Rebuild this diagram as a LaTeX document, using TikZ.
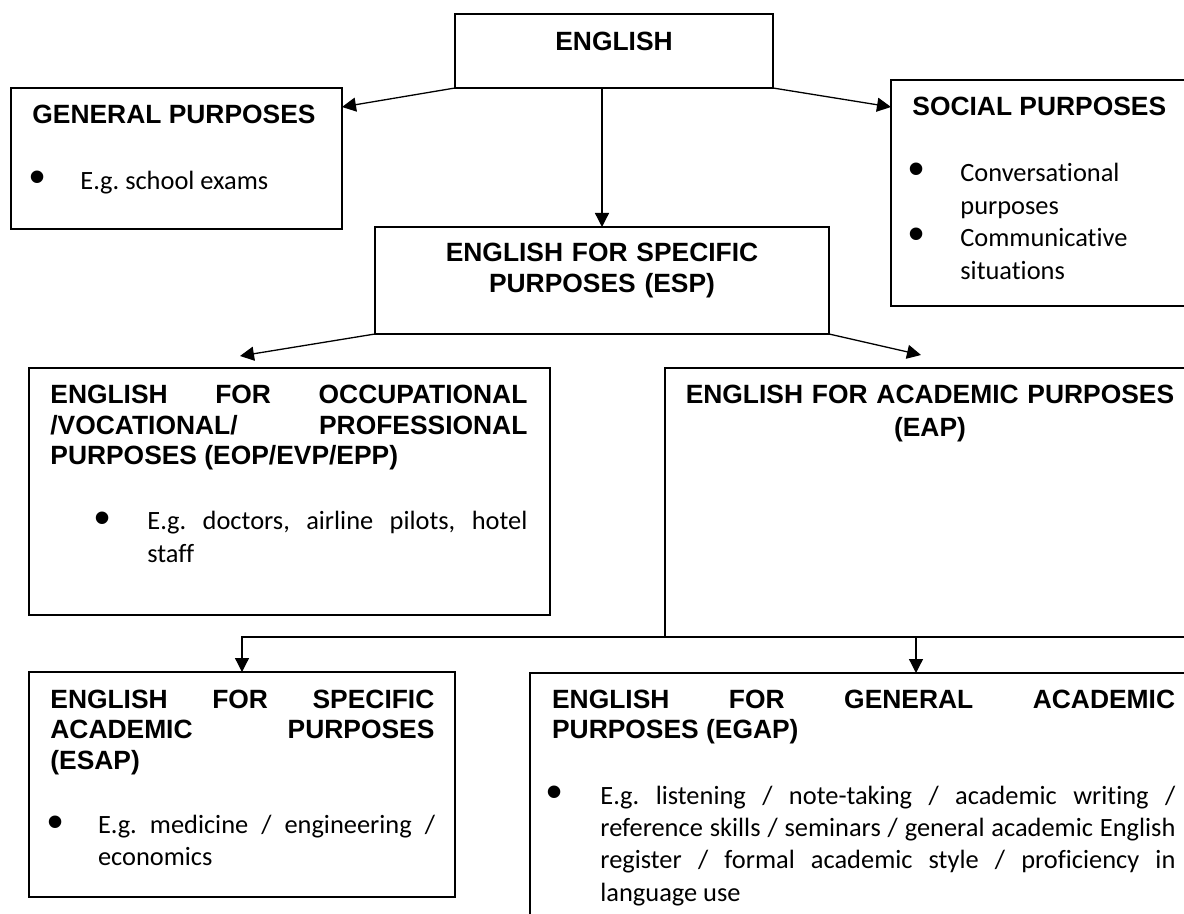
\documentclass[tikz,border=0pt]{standalone}
\usepackage{fontspec}
\setmainfont{Carlito}[Ligatures=NoCommon]
\newfontfamily\hdfont{Liberation Sans}
\usetikzlibrary{arrows.meta,calc}
\hyphenpenalty=10000
\exhyphenpenalty=10000
\tolerance=10000
\hbadness=10000
\frenchspacing
\tikzset{
  box/.style={draw, line width=0.75pt, anchor=north west, inner sep=0pt, outer sep=0pt},
  ttl/.style={font=\hdfont\bfseries\fontsize{13.2}{15.25}\selectfont\frenchspacing, inner sep=0pt, anchor=base west},
  txt/.style={font=\fontsize{13.2}{16.2}\selectfont\frenchspacing, inner sep=0pt, anchor=base west},
  bul/.style={font=\hdfont\fontsize{23}{23}\selectfont, inner sep=0pt, anchor=center},
  arr/.style={line width=0.65pt, -{Triangle[length=7pt,width=7pt]}},
}
\begin{document}
\begin{tikzpicture}[x=0.5pt, y=-0.5pt]
\useasboundingbox (0,0) rectangle (1184,914);
\clip (0,0) rectangle (1184,914);

% boxes
\node[box, minimum width=159pt, minimum height=37pt]   (eng)  at (455,14)  {};
\node[box, minimum width=165.5pt, minimum height=70.5pt] (gen) at (11,88)  {};
\node[box, minimum width=160pt, minimum height=113pt]  (soc)  at (891,80)  {};
\node[box, minimum width=227pt, minimum height=53.5pt] (esp)  at (375,227) {};
\node[box, minimum width=260.5pt, minimum height=123.5pt] (eop) at (29,368) {};
\node[box, minimum width=270pt, minimum height=134.5pt] (eap) at (665,368) {};
\node[box, minimum width=213pt, minimum height=112.5pt] (esap) at (29,672) {};
\node[box, minimum width=350pt, minimum height=150pt]  (egap) at (530,673) {};

% texts
\node[ttl, anchor=base] (engT) at (614,50.5) {ENGLISH};

\node[ttl] (genT) at (32,124) {GENERAL PURPOSES};
\node[bul] (genB) at (37.7,182) {•};
\node[txt] (genX) at (80,190) {E.g. school exams};

\node[ttl] (socT) at (912,116) {SOCIAL PURPOSES};
\node[bul] (socB1) at (917,174) {•};
\node[bul] (socB2) at (917,239) {•};
\node[txt, text width=100pt, align=left] (socX1) at (960,181.7) {Conversational\\purposes};
\node[txt, text width=100pt, align=left] (socX2) at (960,246.7) {Communicative\\situations};

\node[ttl, anchor=base, text width=220pt, align=center] (espT) at (602,262) {ENGLISH FOR SPECIFIC\\PURPOSES (ESP)};

\node[ttl, text width=238.5pt, align=justify] (eopT) at (50,404)
  {ENGLISH FOR OCCUPATIONAL\linebreak /VOCATIONAL/ PROFESSIONAL\linebreak PURPOSES (EOP/EVP/EPP)};
\node[bul] (eopB) at (103,522.7) {•};
\node[txt, text width=190pt, align=justify] (eopX) at (147,530)
  {E.g. doctors, airline pilots, hotel\linebreak staff};

\node[ttl, anchor=base, text width=260pt, align=center, font=\hdfont\bfseries\fontsize{13.2}{16.5}\selectfont] (eapT) at (930,404)
  {ENGLISH FOR ACADEMIC PURPOSES\\(EAP)};

\node[ttl, text width=192pt, align=justify] (esapT) at (50,708)
  {ENGLISH FOR SPECIFIC\linebreak ACADEMIC PURPOSES\linebreak (ESAP)};
\node[bul] (esapB) at (55.5,826.5) {•};
\node[txt, text width=168.5pt, align=justify] (esapX) at (97.6,833)
  {E.g. medicine / engineering /\linebreak economics};

\node[ttl, text width=311.5pt, align=justify] (egapT) at (551.7,708)
  {ENGLISH FOR GENERAL ACADEMIC\linebreak PURPOSES (EGAP)};
\node[bul] (egapB) at (555,796.7) {•};
\node[txt, text width=287.5pt, align=justify] (egapX) at (600,804)
  {E.g. listening / note-taking / academic writing /\linebreak reference skills / seminars / general academic English\linebreak register / formal academic style / proficiency in\linebreak language use};

% connectors
\coordinate (l1) at (240,356);
\coordinate (r1) at (921,355);
\coordinate (ga) at (916,637);

\draw[arr] (eng.south west) -- ([yshift=-9.5pt]gen.north east);
\draw[arr] (eng.south east) -- ([yshift=-13.5pt]soc.north west);
\draw[arr] (esp.north |- eng.south) -- (esp.north);
\draw[arr] (esp.south west) -- (l1);
\draw[arr] (esp.south east) -- (r1);
\draw[arr] (eap.south west) -| (esap.north);
\draw[arr] (ga) -- (egap.north -| ga);
\end{tikzpicture}
\end{document}
